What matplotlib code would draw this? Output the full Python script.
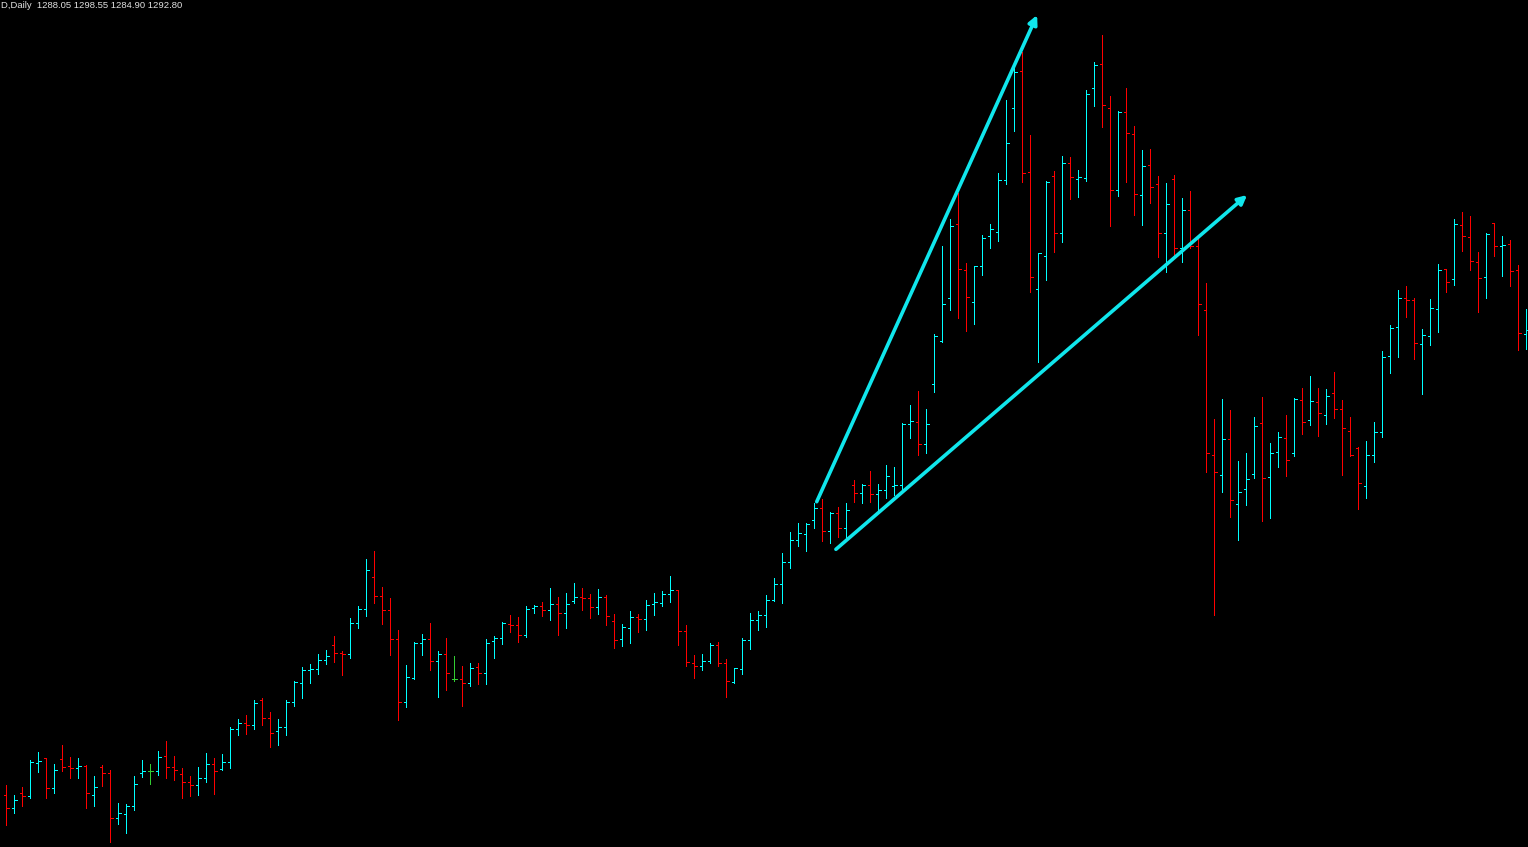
import numpy as np
import matplotlib
matplotlib.use("Agg")
import matplotlib.pyplot as plt
from matplotlib.collections import LineCollection

# ---------------- data (daily OHLC) ----------------
opens = [
 1002.35, 995.85, 1003.35, 1001.85, 1018.35, 1020.85, 1005.85, 1020.35, 1016.85, 1015.85,
 1017.0, 1002.35, 1016.35, 1013.35, 990.85, 992.85, 996.85, 1013.35, 1014.35, 1014.35,
 1021.85, 1016.35, 1012.85, 1008.85, 1007.35, 1010.85, 1017.85, 1015.35, 1018.85, 1035.35,
 1038.35, 1037.35, 1049.85, 1040.85, 1034.5, 1036.35, 1048.85, 1058.35, 1064.85, 1065.35,
 1069.85, 1077.35, 1073.35, 1072.85, 1088.35, 1095.35, 1111.35, 1101.85, 1094.85, 1080.35,
 1048.85, 1060.85, 1078.35, 1080.35, 1069.35, 1072.85, 1060.35, 1060.35, 1058.35, 1066.35,
 1063.35, 1079.35, 1080.85, 1087.85, 1087.35, 1082.35, 1095.85, 1096.85, 1094.85, 1097.85,
 1093.35, 1099.35, 1101.35, 1100.85, 1096.35, 1101.35, 1089.35, 1080.35, 1085.85, 1091.35,
 1090.35, 1097.85, 1098.35, 1102.85, 1104.85, 1084.35, 1068.35, 1066.85, 1069.35, 1077.35,
 1068.35, 1058.85, 1065.35, 1079.85, 1089.85, 1092.35, 1099.85, 1107.85, 1118.85, 1129.85,
 1132.85, 1139.85, 1146.15, 1134.35, 1143.5, 1135.85, 1157.35, 1153.35, 1157.5, 1152.85,
 1154.85, 1157.25, 1157.35, 1188.15, 1188.85, 1178.0, 1208.0, 1229.5, 1250.85, 1287.85,
 1264.85, 1248.85, 1266.85, 1281.85, 1283.85, 1309.85, 1345.85, 1364.35, 1313.85, 1255.35,
 1271.85, 1311.85, 1283.35, 1318.35, 1310.35, 1310.9, 1355.85, 1368.25, 1346.25, 1304.85,
 1343.8, 1332.9, 1302.4, 1317.45, 1307.85, 1283.4, 1310.3, 1276.25, 1294.9, 1276.85,
 1244.85, 1172.45, 1162.35, 1180.35, 1147.85, 1155.35, 1162.85, 1188.35, 1161.35, 1174.0,
 1180.85, 1173.35, 1199.85, 1189.85, 1198.85, 1192.35, 1203.35, 1195.35, 1184.35, 1175.85,
 1156.85, 1172.5, 1184.0, 1221.85, 1236.35, 1250.85, 1250.0, 1227.85, 1231.85, 1245.35,
 1265.35, 1260.35, 1287.35, 1281.35, 1268.85, 1261.35, 1288.35, 1277.15, 1277.85, 1264.85,
 1232.85]

highs = [
 1007.5, 1002.5, 1006.5, 1019.85, 1023.85, 1020.85, 1018.15, 1027.5, 1021.5, 1021.0,
 1017.35, 1012.0, 1017.5, 1015.0, 998.5, 998.0, 1012.15, 1020.0, 1018.0, 1024.5,
 1029.5, 1022.0, 1016.0, 1011.85, 1016.35, 1023.5, 1021.0, 1023.0, 1036.35, 1040.5,
 1042.65, 1050.0, 1051.0, 1044.0, 1040.5, 1050.0, 1059.35, 1066.5, 1068.0, 1073.0,
 1075.0, 1082.0, 1074.5, 1091.0, 1097.0, 1120.5, 1124.5, 1106.5, 1101.0, 1085.15,
 1067.5, 1079.0, 1083.0, 1088.5, 1074.5, 1081.0, 1072.0, 1067.0, 1068.5, 1068.5,
 1080.5, 1082.0, 1089.0, 1092.5, 1091.5, 1097.0, 1097.5, 1099.0, 1106.0, 1101.5,
 1103.5, 1108.5, 1106.0, 1103.0, 1105.5, 1102.5, 1093.0, 1088.0, 1094.5, 1093.0,
 1100.0, 1103.5, 1104.5, 1112.0, 1105.0, 1087.5, 1072.5, 1073.0, 1078.35, 1079.0,
 1070.35, 1065.85, 1080.85, 1093.35, 1094.35, 1102.35, 1110.85, 1123.35, 1133.85, 1138.35,
 1138.35, 1148.35, 1150.35, 1143.85, 1146.35, 1148.5, 1160.0, 1158.0, 1164.5, 1158.0,
 1167.5, 1166.5, 1188.35, 1197.5, 1204.5, 1195.5, 1233.0, 1277.0, 1290.5, 1303.35,
 1268.35, 1266.85, 1282.5, 1288.0, 1313.35, 1350.0, 1366.65, 1374.15, 1332.35, 1273.35,
 1309.5, 1314.5, 1322.0, 1321.5, 1315.0, 1354.9, 1368.8, 1382.35, 1351.9, 1344.55,
 1355.85, 1336.85, 1324.8, 1325.55, 1312.0, 1308.45, 1312.6, 1301.1, 1304.5, 1281.15,
 1258.6, 1190.5, 1200.5, 1195.0, 1169.5, 1173.5, 1191.5, 1201.5, 1178.5, 1184.0,
 1192.5, 1201.0, 1206.0, 1212.0, 1206.0, 1205.5, 1214.0, 1200.0, 1191.5, 1176.35,
 1179.5, 1189.0, 1224.5, 1237.5, 1255.0, 1257.0, 1250.85, 1235.5, 1250.5, 1268.0,
 1265.35, 1290.5, 1294.0, 1292.0, 1273.85, 1283.5, 1288.35, 1282.0, 1280.0, 1267.5,
 1245.5]

lows = [
 987.5, 993.65, 997.15, 1000.85, 1014.15, 1001.15, 1003.65, 1014.65, 1011.15, 1011.15,
 996.15, 997.15, 1007.15, 979.15, 987.85, 983.65, 995.15, 1011.65, 1008.0, 1012.5,
 1011.15, 1010.0, 1001.15, 1002.15, 1002.65, 1009.15, 1003.15, 1014.85, 1016.15, 1032.35,
 1033.15, 1035.65, 1037.65, 1026.65, 1027.5, 1032.5, 1047.15, 1051.15, 1058.65, 1063.15,
 1068.15, 1069.15, 1062.65, 1070.85, 1086.15, 1092.15, 1098.35, 1088.15, 1072.5, 1040.15,
 1046.65, 1060.65, 1072.5, 1065.15, 1051.5, 1055.0, 1059.65, 1047.15, 1057.15, 1058.15,
 1058.15, 1071.15, 1078.15, 1084.15, 1079.15, 1081.65, 1093.65, 1092.15, 1090.15, 1082.5,
 1086.15, 1098.65, 1095.15, 1091.15, 1093.15, 1087.65, 1076.15, 1077.15, 1078.65, 1084.15,
 1085.15, 1092.65, 1097.15, 1099.15, 1077.65, 1067.15, 1061.15, 1065.15, 1068.65, 1067.15,
 1051.65, 1058.65, 1063.15, 1075.65, 1085.15, 1086.65, 1099.65, 1098.65, 1116.15, 1127.15,
 1124.65, 1136.15, 1129.65, 1128.65, 1131.65, 1130.35, 1149.15, 1148.5, 1149.15, 1145.15,
 1150.85, 1152.5, 1155.0, 1181.15, 1172.5, 1173.65, 1204.15, 1228.85, 1245.0, 1241.15,
 1234.65, 1238.0, 1262.5, 1276.15, 1279.65, 1308.15, 1334.65, 1309.15, 1254.15, 1219.15,
 1260.15, 1274.15, 1279.15, 1300.65, 1301.65, 1309.75, 1347.2, 1336.3, 1286.8, 1301.85,
 1309.2, 1292.65, 1287.75, 1298.3, 1271.75, 1264.25, 1272.5, 1269.1, 1275.9, 1232.65,
 1164.15, 1092.5, 1154.15, 1141.65, 1130.15, 1147.65, 1161.15, 1139.65, 1141.15, 1166.65,
 1162.15, 1172.15, 1183.15, 1187.65, 1182.15, 1188.15, 1191.15, 1162.65, 1172.15, 1145.65,
 1151.15, 1169.0, 1181.5, 1213.65, 1221.65, 1241.65, 1220.65, 1203.15, 1227.65, 1234.15,
 1254.15, 1257.65, 1274.65, 1265.15, 1244.15, 1251.15, 1272.15, 1262.15, 1257.15, 1225.15,
 1225.65]

closes = [
 995.85, 999.85, 1001.85, 1019.0, 1019.35, 1005.85, 1014.85, 1016.65, 1015.85, 1016.85,
 1003.5, 1006.35, 1013.35, 990.85, 993.35, 996.85, 1008.0, 1014.35, 1014.35, 1021.35,
 1016.35, 1014.85, 1008.85, 1007.35, 1010.85, 1017.85, 1014.35, 1018.85, 1035.35, 1038.35,
 1037.35, 1048.35, 1040.85, 1033.35, 1036.35, 1048.85, 1058.85, 1064.85, 1065.35, 1069.85,
 1071.85, 1073.35, 1073.0, 1088.35, 1095.35, 1114.85, 1101.85, 1094.85, 1080.35, 1048.85,
 1061.5, 1078.35, 1080.35, 1069.35, 1072.85, 1063.35, 1060.35, 1058.35, 1065.85, 1063.35,
 1078.35, 1080.85, 1088.5, 1087.35, 1082.35, 1095.35, 1096.85, 1095.0, 1097.85, 1093.35,
 1097.85, 1101.35, 1101.15, 1096.35, 1101.35, 1091.85, 1079.85, 1086.35, 1091.35, 1090.35,
 1097.35, 1098.85, 1102.85, 1104.85, 1084.35, 1068.85, 1066.85, 1069.35, 1077.35, 1068.35,
 1059.35, 1065.85, 1079.85, 1089.85, 1092.35, 1099.85, 1107.85, 1118.85, 1129.85, 1133.35,
 1137.85, 1146.15, 1134.35, 1143.5, 1135.85, 1144.85, 1153.35, 1157.5, 1152.85, 1154.85,
 1162.0, 1157.5, 1188.15, 1189.5, 1178.0, 1188.15, 1232.0, 1248.0, 1286.85, 1265.35,
 1251.35, 1266.85, 1280.85, 1285.35, 1309.85, 1328.35, 1363.85, 1313.35, 1261.35, 1273.35,
 1308.85, 1283.35, 1318.35, 1311.35, 1311.35, 1352.85, 1367.3, 1347.75, 1304.85, 1344.0,
 1333.45, 1302.8, 1316.9, 1306.35, 1283.4, 1297.9, 1275.9, 1294.9, 1276.85, 1247.85,
 1173.75, 1163.8, 1180.35, 1149.85, 1153.85, 1160.35, 1186.85, 1160.85, 1173.35, 1181.35,
 1169.85, 1200.35, 1188.85, 1199.35, 1193.35, 1201.85, 1195.35, 1185.85, 1172.65, 1158.35,
 1172.35, 1184.0, 1221.35, 1236.0, 1250.85, 1249.85, 1228.35, 1232.35, 1245.85, 1264.85,
 1258.85, 1287.85, 1281.85, 1269.35, 1260.85, 1282.85, 1276.85, 1277.35, 1264.35, 1233.35,
 1234.85]

# hand-drawn trend lines (bar index, price)
upper_line_x = [101.3, 128.85]
upper_line_y = [1149.15, 1392.5]
lower_line_x = [103.7, 155.1]
lower_line_y = [1125.35, 1302.5]

header_text = "D,Daily  1288.05 1298.55 1284.90 1292.80"

# ---------------- drawing ----------------
W, H, DPI = 1528, 847, 100
fig = plt.figure(figsize=(W / DPI, H / DPI), dpi=DPI, facecolor="black")
ax = fig.add_axes([0, 0, 1, 1], facecolor="black")
ax.set_xlim(-0.79, 190.21)
ax.set_ylim(976.5, 1400.0)
ax.axis("off")

UP, DOWN, DOJI = "#00FFFF", "#FF0000", "#32CD32"
tick = 0.3
segs, cols = [], []
for i, (o, h, l, c) in enumerate(zip(opens, highs, lows, closes)):
    col = UP if c > o else (DOWN if c < o else DOJI)
    segs.append([(i, l), (i, h)])
    segs.append([(i - tick, o), (i, o)])
    segs.append([(i, c), (i + tick, c)])
    cols += [col] * 3
lc = LineCollection(segs, colors=cols, linewidths=0.6, antialiased=False)
ax.add_collection(lc)

line_col = "#10E6EC"
for xs, ys in [(upper_line_x, upper_line_y), (lower_line_x, lower_line_y)]:
    ax.annotate("", xy=(xs[1], ys[1]), xytext=(xs[0], ys[0]),
                arrowprops=dict(arrowstyle="-|>", color=line_col, lw=2.6,
                                mutation_scale=13, shrinkA=0, shrinkB=0))

fig.text(1 / W, 1 - 1 / H, header_text, ha="left", va="top",
         color="#E0E0E0", fontsize=6.8, family="Liberation Sans")

fig.savefig("out.png", dpi=DPI, facecolor="black")
